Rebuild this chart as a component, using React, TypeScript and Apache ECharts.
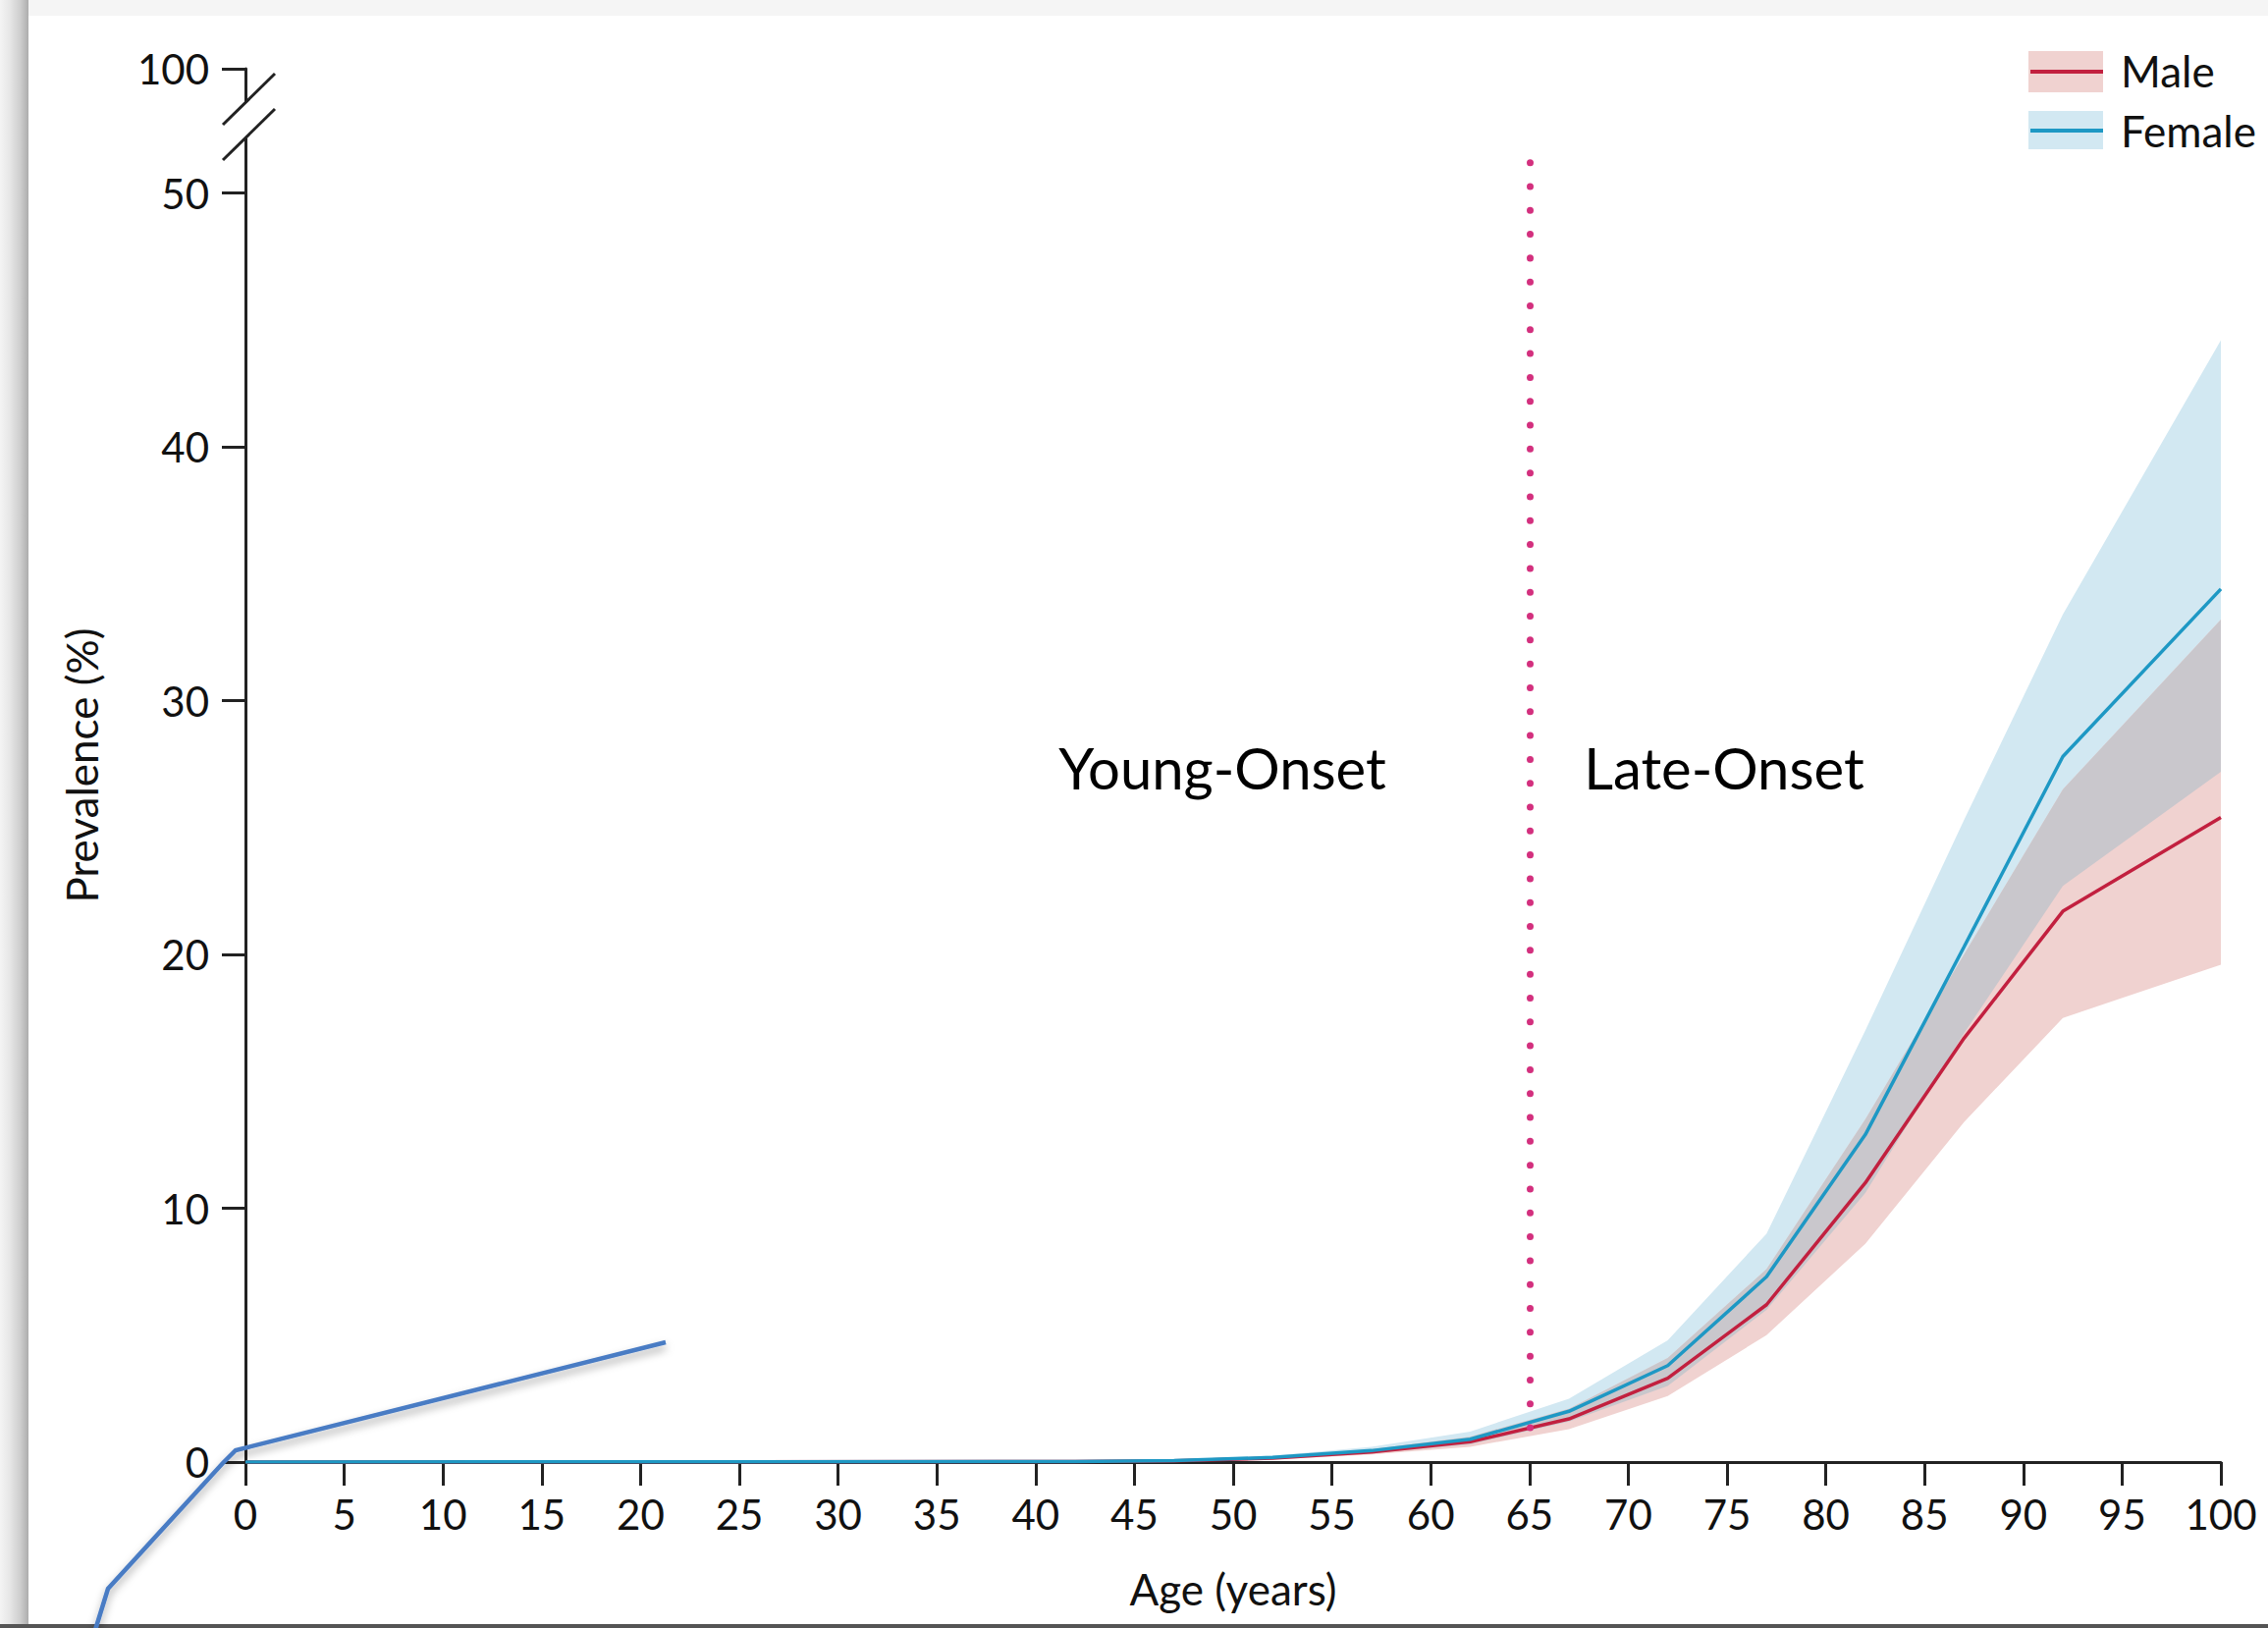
import React, { useEffect, useRef } from "react";
import * as echarts from "echarts";

// ---- data ----
const ages = [0, 42, 47, 52, 57, 62, 67, 72, 77, 82, 87, 92, 100];
const maleMid = [0, 0.02, 0.05, 0.15, 0.4, 0.8, 1.7, 3.3, 6.2, 11.0, 16.7, 21.7, 25.4];
const maleLow = [0, 0.01, 0.03, 0.1, 0.3, 0.6, 1.3, 2.6, 5.0, 8.6, 13.4, 17.5, 19.6];
const maleHigh = [0, 0.04, 0.08, 0.2, 0.5, 1.0, 2.1, 4.1, 7.6, 13.5, 20.0, 26.5, 33.2];
const femaleMid = [0, 0.02, 0.06, 0.18, 0.45, 0.9, 2.0, 3.8, 7.3, 12.9, 20.3, 27.8, 34.4];
const femaleLow = [0, 0.01, 0.04, 0.12, 0.35, 0.7, 1.6, 3.0, 6.0, 10.6, 16.9, 22.7, 27.2];
const femaleHigh = [0, 0.04, 0.1, 0.25, 0.6, 1.2, 2.5, 4.8, 9.0, 17.0, 25.3, 33.4, 44.2];
const xTickInterval = 5;
const yTickInterval = 10;
const yBreakTopLabel = "100";
const onsetCutoff = 65;
const regionLabels = ["Young-Onset", "Late-Onset"];
const legendNames = ["Male", "Female"];

const FONT = "Lato";
const MALE = "#c2203f";
const FEMALE = "#1e98c4";
const MALE_BAND = "#f0d2d0";
const FEMALE_BAND = "#d2e8f2";
const OVERLAP_BAND = "#c9c7cc";

const pairs = (ys: number[]) => ages.map((a, i) => [a, ys[i]]);

const overlapLow = ages.map((_, i) => Math.max(maleLow[i], femaleLow[i]));
const overlapHigh = ages.map((_, i) =>
  Math.max(Math.min(maleHigh[i], femaleHigh[i]), overlapLow[i])
);

// band drawn as a polygon through the axes' own scales
function band(lo: number[], hi: number[], color: string, z: number) {
  return {
    type: "custom",
    silent: true,
    z,
    data: [[ages[0], lo[0]]],
    encode: { x: 0, y: 1 },
    renderItem: (_params: any, api: any) => {
      const upper = ages.map((a, i) => api.coord([a, hi[i]]));
      const lower = ages.map((a, i) => api.coord([a, lo[i]])).reverse();
      return {
        type: "polygon",
        shape: { points: upper.concat(lower) },
        style: { fill: color, stroke: null },
      };
    },
  };
}

export default function App() {
  const ref = useRef<HTMLDivElement>(null);
  useEffect(() => {
    if (!ref.current) return;
    const chart = echarts.init(ref.current, null, { renderer: "svg" });
    const yMax = 54.9;
    const option: any = {
      animation: false,
      backgroundColor: "#ffffff",
      textStyle: { fontFamily: FONT },
      grid: { left: 250, right: 48, top: 70, bottom: 169 },
      xAxis: {
        type: "value",
        min: 0,
        max: 100,
        interval: xTickInterval,
        name: "Age (years)",
        nameLocation: "middle",
        nameGap: 107,
        nameTextStyle: { fontSize: 44, color: "#111", fontFamily: FONT },
        axisLine: { lineStyle: { color: "#222", width: 3 } },
        axisTick: { length: 24, lineStyle: { color: "#222", width: 3 } },
        axisLabel: { fontSize: 42, color: "#111", margin: 32, fontFamily: FONT },
        splitLine: { show: false },
      },
      yAxis: {
        type: "value",
        min: 0,
        max: yMax,
        interval: yTickInterval,
        name: "Prevalence (%)",
        nameLocation: "middle",
        nameGap: 145,
        nameTextStyle: { fontSize: 44, color: "#111", fontFamily: FONT },
        axisLine: { show: true, lineStyle: { color: "#222", width: 3 } },
        axisTick: { show: true, length: 24, lineStyle: { color: "#222", width: 3 } },
        axisLabel: {
          fontSize: 42,
          color: "#111",
          margin: 37,
          fontFamily: FONT,
          showMaxLabel: true,
          formatter: (v: number) => (v > 50 ? yBreakTopLabel : String(v)),
        },
        splitLine: { show: false },
      },
      series: [
        band(femaleLow, femaleHigh, FEMALE_BAND, 1),
        band(maleLow, maleHigh, MALE_BAND, 1),
        band(overlapLow, overlapHigh, OVERLAP_BAND, 1),
        {
          name: legendNames[0],
          type: "line",
          data: pairs(maleMid),
          symbol: "none",
          lineStyle: { color: MALE, width: 3.5 },
          z: 3,
        },
        {
          name: legendNames[1],
          type: "line",
          data: pairs(femaleMid),
          symbol: "none",
          lineStyle: { color: FEMALE, width: 3.5 },
          z: 4,
        },
        {
          type: "line",
          data: [],
          silent: true,
          markLine: {
            silent: true,
            symbol: "none",
            label: { show: false },
            lineStyle: {
              color: "#d3307e",
              width: 7,
              type: [0.01, 24.3],
              cap: "round",
            },
            data: [[{ coord: [onsetCutoff, 51.2] }, { coord: [onsetCutoff, 0.43] }]],
          },
          z: 5,
        },
      ],
      graphic: [
        // screenshot frame
        { type: "rect", z: 50, silent: true, shape: { x: 0, y: 0, width: 2310, height: 16 }, style: { fill: "#f5f5f5" } },
        {
          type: "rect",
          z: 51,
          silent: true,
          shape: { x: 0, y: 0, width: 29, height: 1658 },
          style: {
            fill: new echarts.graphic.LinearGradient(0, 0, 1, 0, [
              { offset: 0, color: "#f4f4f4" },
              { offset: 0.35, color: "#e6e6e6" },
              { offset: 0.7, color: "#cfcfcf" },
              { offset: 1, color: "#adadad" },
            ]),
          },
        },
        { type: "rect", z: 52, silent: true, shape: { x: 0, y: 1654, width: 2310, height: 4 }, style: { fill: "#555555" } },
        // axis break
        { type: "rect", z: 60, silent: true, shape: { x: 244, y: 104, width: 12, height: 37 }, style: { fill: "#ffffff" } },
        { type: "line", z: 61, silent: true, shape: { x1: 227, y1: 127, x2: 280, y2: 75 }, style: { stroke: "#222", lineWidth: 3 } },
        { type: "line", z: 61, silent: true, shape: { x1: 227, y1: 163, x2: 280, y2: 111 }, style: { stroke: "#222", lineWidth: 3 } },
        // region labels
        {
          type: "text",
          z: 40,
          x: 1245,
          y: 781,
          style: { text: regionLabels[0], font: `58px ${FONT}`, fill: "#000", align: "center", verticalAlign: "middle" },
        },
        {
          type: "text",
          z: 40,
          x: 1756,
          y: 781,
          style: { text: regionLabels[1], font: `58px ${FONT}`, fill: "#000", align: "center", verticalAlign: "middle" },
        },
        // legend
        { type: "rect", z: 40, shape: { x: 2066, y: 52, width: 76, height: 42 }, style: { fill: MALE_BAND } },
        { type: "line", z: 41, shape: { x1: 2068, y1: 73, x2: 2142, y2: 73 }, style: { stroke: MALE, lineWidth: 4 } },
        { type: "text", z: 41, x: 2160, y: 72, style: { text: legendNames[0], font: `44px ${FONT}`, fill: "#111", verticalAlign: "middle" } },
        { type: "rect", z: 40, shape: { x: 2066, y: 113, width: 76, height: 39 }, style: { fill: FEMALE_BAND } },
        { type: "line", z: 41, shape: { x1: 2068, y1: 133, x2: 2142, y2: 133 }, style: { stroke: FEMALE, lineWidth: 4 } },
        { type: "text", z: 41, x: 2160, y: 133, style: { text: legendNames[1], font: `44px ${FONT}`, fill: "#111", verticalAlign: "middle" } },
        // stray annotation stroke
        {
          type: "polyline",
          z: 70,
          silent: true,
          shape: { points: [[97, 1660], [110, 1618], [227, 1490], [240, 1477], [678, 1367]] },
          style: {
            stroke: "#4a7cc4",
            lineWidth: 4.5,
            fill: null,
            shadowBlur: 8,
            shadowColor: "rgba(0,0,0,0.35)",
            shadowOffsetY: 5,
          },
        },
      ],
    };
    chart.setOption(option);
    return () => chart.dispose();
  }, []);
  return (
    <div
      ref={ref}
      style={{ position: "fixed", left: 0, top: 0, width: 2310, height: 1658, background: "#fff" }}
    />
  );
}
